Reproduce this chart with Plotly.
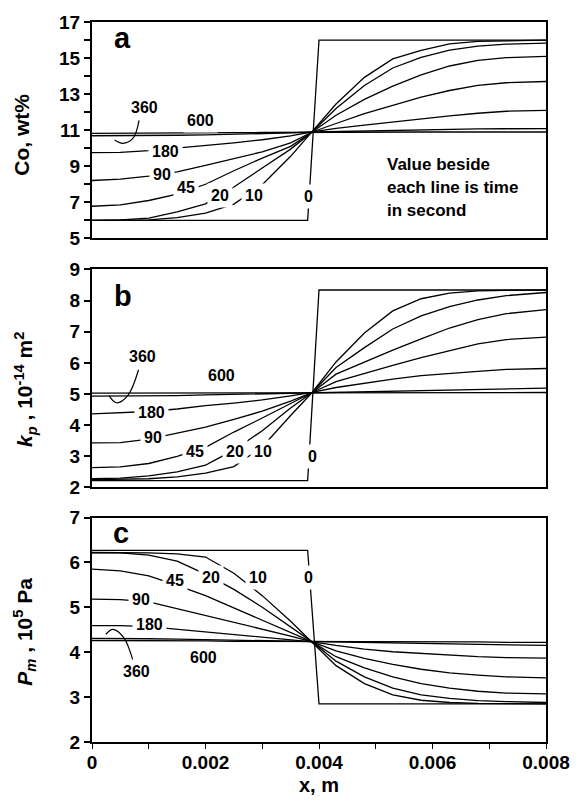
import plotly.graph_objects as go

# ---------------- data ----------------
x = [0, 0.0005, 0.001, 0.0015, 0.002, 0.0025, 0.003, 0.0035, 0.00388,
     0.0043, 0.0048, 0.0053, 0.0058, 0.0063, 0.0068, 0.0073, 0.008]
x_step = [0, 0.0038, 0.004, 0.008]
times = ["10", "20", "45", "90", "180", "360", "600"]

# panel a : Co, wt%
co_0 = [6.0, 6.0, 16.0, 16.0]
co_10 = [6.0, 6.0, 6.03, 6.15, 6.4, 6.9, 7.97, 9.55, 10.9, 12.45, 13.93, 14.95, 15.43, 15.79, 15.92, 15.97, 16.0]
co_20 = [6.0, 6.02, 6.12, 6.47, 6.91, 7.85, 8.9, 9.95, 10.9, 12.2, 13.48, 14.45, 15.04, 15.44, 15.66, 15.77, 15.83]
co_45 = [6.78, 6.86, 7.1, 7.45, 8.0, 8.75, 9.45, 10.1, 10.9, 11.83, 12.71, 13.44, 14.07, 14.56, 14.87, 15.02, 15.09]
co_90 = [8.21, 8.28, 8.45, 8.69, 9.05, 9.42, 9.8, 10.3, 10.9, 11.37, 11.92, 12.38, 12.83, 13.2, 13.48, 13.63, 13.7]
co_180 = [9.75, 9.77, 9.87, 10.0, 10.15, 10.3, 10.47, 10.68, 10.9, 11.1, 11.28, 11.46, 11.64, 11.79, 11.94, 12.05, 12.1]
co_360 = [10.69, 10.69, 10.7, 10.72, 10.74, 10.77, 10.81, 10.85, 10.9, 10.93, 10.96, 10.99, 11.02, 11.05, 11.07, 11.08, 11.09]
co_600 = [10.82, 10.82, 10.83, 10.84, 10.85, 10.86, 10.87, 10.88, 10.9, 10.9, 10.9, 10.9, 10.9, 10.9, 10.9, 10.9, 10.9]

# panel b : kp, 1e-14 m2
kp_0 = [2.22, 2.22, 8.34, 8.34]
kp_10 = [2.25, 2.26, 2.28, 2.34, 2.46, 2.67, 3.3, 4.31, 5.05, 6.03, 6.96, 7.67, 8.06, 8.24, 8.31, 8.33, 8.34]
kp_20 = [2.28, 2.30, 2.37, 2.50, 2.72, 3.20, 3.82, 4.55, 5.05, 5.85, 6.49, 7.09, 7.51, 7.81, 8.02, 8.16, 8.26]
kp_45 = [2.64, 2.66, 2.77, 3.0, 3.29, 3.78, 4.23, 4.70, 5.05, 5.64, 6.03, 6.41, 6.77, 7.12, 7.39, 7.58, 7.71]
kp_90 = [3.43, 3.44, 3.55, 3.75, 3.94, 4.19, 4.45, 4.77, 5.05, 5.40, 5.67, 5.92, 6.17, 6.40, 6.61, 6.75, 6.83]
kp_180 = [4.36, 4.40, 4.44, 4.52, 4.63, 4.71, 4.81, 4.94, 5.05, 5.21, 5.35, 5.48, 5.59, 5.67, 5.73, 5.79, 5.82]
kp_360 = [4.93, 4.93, 4.94, 4.95, 4.97, 4.99, 5.01, 5.03, 5.05, 5.06, 5.08, 5.10, 5.12, 5.14, 5.16, 5.18, 5.19]
kp_600 = [5.03, 5.03, 5.03, 5.04, 5.04, 5.04, 5.05, 5.05, 5.05, 5.05, 5.05, 5.05, 5.05, 5.05, 5.05, 5.05, 5.05]

# panel c : Pm, 1e5 Pa
pm_0 = [6.27, 6.27, 2.85, 2.85]
pm_10 = [6.22, 6.22, 6.21, 6.19, 6.12, 5.76, 5.26, 4.69, 4.23, 3.70, 3.30, 3.05, 2.93, 2.88, 2.86, 2.85, 2.85]
pm_20 = [6.21, 6.21, 6.16, 6.03, 5.74, 5.40, 5.00, 4.56, 4.23, 3.80, 3.45, 3.20, 3.05, 2.97, 2.92, 2.90, 2.88]
pm_45 = [5.85, 5.81, 5.70, 5.49, 5.26, 4.99, 4.72, 4.45, 4.23, 3.90, 3.65, 3.45, 3.30, 3.20, 3.13, 3.09, 3.07]
pm_90 = [5.18, 5.17, 5.12, 4.97, 4.81, 4.67, 4.51, 4.36, 4.23, 4.03, 3.86, 3.73, 3.62, 3.54, 3.49, 3.45, 3.43]
pm_180 = [4.59, 4.59, 4.57, 4.51, 4.45, 4.39, 4.33, 4.28, 4.23, 4.15, 4.07, 4.01, 3.97, 3.93, 3.90, 3.88, 3.87]
pm_360 = [4.31, 4.31, 4.30, 4.29, 4.28, 4.27, 4.26, 4.24, 4.23, 4.22, 4.21, 4.20, 4.19, 4.18, 4.17, 4.16, 4.15]
pm_600 = [4.26, 4.26, 4.26, 4.25, 4.25, 4.24, 4.24, 4.23, 4.23, 4.23, 4.23, 4.23, 4.23, 4.23, 4.23, 4.22, 4.22]

# curve labels (text, x, y) per panel
lab_text_a = ["360", "600", "180", "90", "45", "20", "10", "0"]
lab_x_a = [0.00092, 0.00191, 0.0013, 0.00124, 0.00165, 0.00226, 0.00286, 0.00382]
lab_y_a = [12.27, 11.55, 9.81, 8.52, 7.83, 7.39, 7.39, 7.33]
lab_text_b = ["360", "600", "180", "90", "45", "20", "10", "0"]
lab_x_b = [0.00089, 0.00228, 0.00104, 0.00107, 0.00182, 0.00252, 0.00301, 0.00388]
lab_y_b = [6.2, 5.59, 4.40, 3.62, 3.15, 3.15, 3.15, 3.0]
lab_text_c = ["45", "20", "10", "0", "90", "180", "360", "600"]
lab_x_c = [0.00147, 0.00209, 0.00292, 0.00382, 0.00086, 0.00102, 0.00078, 0.00196]
lab_y_c = [5.59, 5.66, 5.66, 5.66, 5.18, 4.62, 3.56, 3.89]

# leader lines for the "360" labels
lead_x_a = [0.00083, 0.00072, 0.00054, 0.0004]
lead_y_a = [11.55, 10.54, 10.27, 10.45]
lead_x_b = [0.00082, 0.00063, 0.00043, 0.0003]
lead_y_b = [5.78, 4.95, 4.72, 4.95]
lead_x_c = [0.000243, 0.000365, 0.000557, 0.00073]
lead_y_c = [4.40, 4.51, 4.33, 3.78]

note_lines = ["Value beside", "each line is time", "in second"]
note_x = 0.00517
note_y = [9.11, 7.83, 6.54]

x_ticks = [0, 0.002, 0.004, 0.006, 0.008]
x_ticktext = ["0", "0.002", "0.004", "0.006", "0.008"]

# ---------------- figure ----------------
FONT = "Liberation Sans, Arial, sans-serif"
fig = go.Figure()

panels = [
    ("x", "y", co_0, [co_10, co_20, co_45, co_90, co_180, co_360, co_600]),
    ("x2", "y2", kp_0, [kp_10, kp_20, kp_45, kp_90, kp_180, kp_360, kp_600]),
    ("x3", "y3", pm_0, [pm_10, pm_20, pm_45, pm_90, pm_180, pm_360, pm_600]),
]
line_style = dict(color="black", width=1.3)
for xa, ya, y0, curves in panels:
    fig.add_trace(go.Scatter(x=x_step, y=y0, mode="lines", line=line_style,
                             xaxis=xa, yaxis=ya, showlegend=False, name="0"))
    for t, yy in zip(times, curves):
        fig.add_trace(go.Scatter(x=x, y=yy, mode="lines", line=line_style,
                                 xaxis=xa, yaxis=ya, showlegend=False, name=t))

for xa, ya, lx, ly in [("x", "y", lead_x_a, lead_y_a), ("x2", "y2", lead_x_b, lead_y_b),
                       ("x3", "y3", lead_x_c, lead_y_c)]:
    fig.add_trace(go.Scatter(x=lx, y=ly, mode="lines",
                             line=dict(color="black", width=1.2, shape="spline"),
                             xaxis=xa, yaxis=ya, showlegend=False, hoverinfo="skip"))

annotations = []
for xa, ya, tt, xx, yy in [("x", "y", lab_text_a, lab_x_a, lab_y_a),
                           ("x2", "y2", lab_text_b, lab_x_b, lab_y_b),
                           ("x3", "y3", lab_text_c, lab_x_c, lab_y_c)]:
    for t, px, py in zip(tt, xx, yy):
        annotations.append(dict(text="<b>%s</b>" % t, x=px, y=py, xref=xa, yref=ya,
                                showarrow=False, bgcolor="white", borderpad=3,
                                font=dict(family=FONT, size=16, color="black")))

for t, py in zip(note_lines, note_y):
    annotations.append(dict(text="<b>%s</b>" % t, x=note_x, y=py, xref="x", yref="y",
                            xanchor="left", showarrow=False,
                            font=dict(family=FONT, size=17, color="black")))

for t, px, py, xa, ya in [("a", 0.00054, 16.13, "x", "y"), ("b", 0.000545, 8.15, "x2", "y2"),
                          ("c", 0.000516, 6.65, "x3", "y3")]:
    annotations.append(dict(text="<b>%s</b>" % t, x=px, y=py, xref=xa, yref=ya,
                            showarrow=False, font=dict(family=FONT, size=29, color="black")))

# axis titles
title_font = dict(family=FONT, size=21, color="black")
annotations.append(dict(text="<b>Co, wt%</b>", x=-0.157, y=0.843, xref="paper", yref="paper",
                        xanchor="center", yanchor="middle",
                        textangle=-90, showarrow=False, font=title_font))
annotations.append(dict(text="<b><i>k<sub>p</sub></i> , 10<sup>-14</sup> m<sup>2</sup></b>",
                        x=-0.148, y=0.49, xref="paper", yref="paper",
                        xanchor="center", yanchor="middle",
                        textangle=-90, showarrow=False, font=title_font))
annotations.append(dict(text="<b><i>P<sub>m</sub></i> , 10<sup>5</sup> Pa</b>",
                        x=-0.148, y=0.153, xref="paper", yref="paper",
                        xanchor="center", yanchor="middle",
                        textangle=-90, showarrow=False, font=title_font))
annotations.append(dict(text="<b>x, m</b>", x=0.5, y=-0.0595, xref="paper", yref="paper",
                        showarrow=False, xanchor="center", yanchor="middle",
                        font=dict(family=FONT, size=20, color="black")))

tickfont = dict(family=FONT, size=19, color="black", weight="bold")

def xaxis(anchor, labels):
    d = dict(range=[0, 0.008], anchor=anchor, showline=True, mirror=True, linecolor="black",
             linewidth=1.5, showgrid=False, zeroline=False, domain=[0, 1])
    if labels:
        d.update(tickvals=x_ticks, ticktext=x_ticktext, ticks="outside", ticklen=5,
                 tickcolor="black", tickwidth=1.3, tickfont=tickfont, ticklabelstandoff=-3,
                 minor=dict(dtick=0.001, ticks="outside", ticklen=5, tickcolor="black", tickwidth=1.3))
    else:
        d.update(showticklabels=False, ticks="")
    return d

def yaxis(anchor, rng, dtick, domain, minor):
    d = dict(range=rng, dtick=dtick, tick0=rng[0], anchor=anchor, domain=domain, showline=True,
             mirror=True, linecolor="black", linewidth=2, showgrid=False, zeroline=False,
             ticks="outside", ticklen=6, tickcolor="black", tickwidth=1.5, tickfont=tickfont)
    if minor:
        d["minor"] = dict(dtick=minor, tick0=rng[0], ticks="outside", ticklen=6,
                          tickcolor="black", tickwidth=1.5)
    return d

fig.update_layout(
    width=582, height=801,
    margin=dict(l=92, r=30, t=16, b=58.5, pad=0),
    paper_bgcolor="white", plot_bgcolor="white",
    xaxis=xaxis("y", False), yaxis=yaxis("x", [5, 17], 2, [0.6995, 1.0], 1),
    xaxis2=xaxis("y2", False), yaxis2=yaxis("x2", [2, 9], 1, [0.3535, 0.6563], None),
    xaxis3=xaxis("y3", True), yaxis3=yaxis("x3", [2, 7], 1, [0.0, 0.3118], None),
    annotations=annotations,
    font=dict(family=FONT, color="black"),
)

fig.write_html("out.html")
